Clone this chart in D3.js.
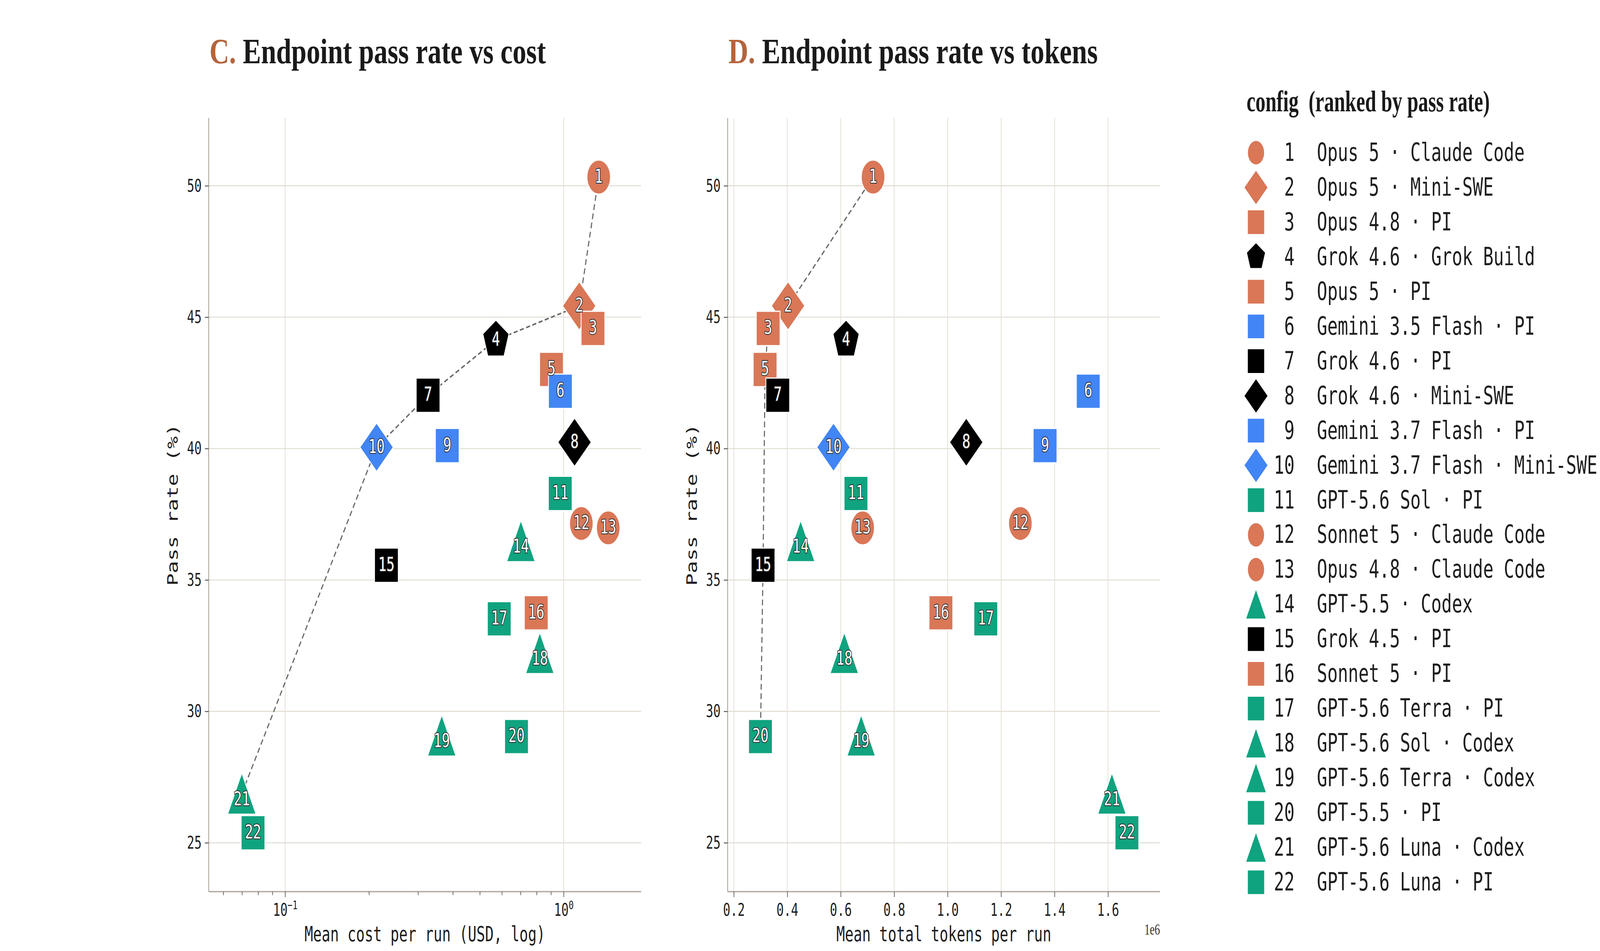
<!DOCTYPE html>
<html>
<head>
<meta charset="utf-8">
<script src="https://cdn.jsdelivr.net/npm/d3@7"></script>
<style>
  html, body { margin: 0; padding: 0; background: #ffffff; overflow: hidden; }
  svg { display: block; width: 100vw; height: 100vh; }
</style>
</head>
<body>
<svg id="chart" viewBox="0 0 5935 2435" preserveAspectRatio="none"></svg>
<script>
// ---------------- DATA ----------------
const configRank = [1,2,3,4,5,6,7,8,9,10,11,12,13,14,15,16,17,18,19,20,21,22];
const configModel = ["Opus 5","Opus 5","Opus 4.8","Grok 4.6","Opus 5","Gemini 3.5 Flash","Grok 4.6","Grok 4.6",
  "Gemini 3.7 Flash","Gemini 3.7 Flash","GPT-5.6 Sol","Sonnet 5","Opus 4.8","GPT-5.5","Grok 4.5","Sonnet 5",
  "GPT-5.6 Terra","GPT-5.6 Sol","GPT-5.6 Terra","GPT-5.5","GPT-5.6 Luna","GPT-5.6 Luna"];
const configHarness = ["Claude Code","Mini-SWE","PI","Grok Build","PI","PI","PI","Mini-SWE",
  "PI","Mini-SWE","PI","Claude Code","Claude Code","Codex","PI","PI",
  "PI","Codex","Codex","PI","Codex","PI"];
const configVendor = ["Anthropic","Anthropic","Anthropic","xAI","Anthropic","Google","xAI","xAI",
  "Google","Google","OpenAI","Anthropic","Anthropic","OpenAI","xAI","Anthropic",
  "OpenAI","OpenAI","OpenAI","OpenAI","OpenAI","OpenAI"];
const passRate = [50.33,45.43,44.57,44.13,43.01,42.18,42.03,40.24,40.11,40.05,38.29,37.15,36.98,36.48,35.56,33.75,
  33.52,32.22,29.08,29.04,26.87,25.38];
const meanCostUSD = [1.336,1.137,1.274,0.571,0.904,0.973,0.326,1.094,0.382,0.213,0.972,1.157,1.445,0.702,0.231,0.797,
  0.587,0.821,0.365,0.677,0.0699,0.0767];
const meanTokens = [721000,403000,328500,620000,317000,1526000,364400,1069700,1364500,573000,657000,1272000,682000,
  450000,309400,974800,1142700,613400,676600,299600,1614600,1670700];
const frontierCost = [21,10,7,4,2,1];
const frontierTokens = [20,15,5,3,2,1];
const yTicks = [25,30,35,40,45,50];
const costMajorTicks = [0.1, 1];
const costMinorTicks = [0.06,0.07,0.08,0.09,0.2,0.3,0.4,0.5,0.6,0.7,0.8,0.9];
const tokenTicks = [200000,400000,600000,800000,1000000,1200000,1400000,1600000];

// ---------------- STYLE ----------------
const vendorColor = {Anthropic:"#D97757", Google:"#4285F4", xAI:"#000000", OpenAI:"#10A37F"};
const harnessShape = {"Claude Code":"circle","Mini-SWE":"diamond","PI":"square","Grok Build":"pentagon","Codex":"triangle"};
const MONO = "'DejaVu Sans Mono', monospace";
const SERIF = "'Liberation Serif', 'DejaVu Serif', serif";
const GRID = "#e2ded3", SPINE = "#b3ada3", TICK = "#555", TXT = "#1e1e1e";

function shapePath(shape, s) {
  switch (shape) {
    case "circle": { const r = 43.6*s; return `M${-r},0A${r},${r} 0 1,0 ${r},0A${r},${r} 0 1,0 ${-r},0Z`; }
    case "square": { const h = 44*s; return `M${-h},${-h}H${h}V${h}H${-h}Z`; }
    case "diamond": { const h = 62*s; return `M0,${-h}L${h},0L0,${h}L${-h},0Z`; }
    case "triangle": { const h = 52.8*s; return `M0,${-h}L${h},${h}L${-h},${h}Z`; }
    case "pentagon": {
      const r = 51*s; let p = "";
      for (let i = 0; i < 5; i++) {
        const a = -Math.PI/2 + i*2*Math.PI/5;
        p += (i ? "L" : "M") + (r*Math.cos(a)).toFixed(2) + "," + (r*Math.sin(a)).toFixed(2);
      }
      return p + "Z";
    }
  }
}

const rows = configRank.map((r, i) => ({
  rank: r, name: configModel[i] + " \u00b7 " + configHarness[i],
  shape: harnessShape[configHarness[i]], color: vendorColor[configVendor[i]],
  pass: passRate[i], cost: meanCostUSD[i], tokens: meanTokens[i]
}));

const svg = d3.select("#chart");
svg.append("rect").attr("width", 5935).attr("height", 2435).attr("fill", "#fff");

const yTop = 302, yBot = 2283;
const y = d3.scaleLinear().domain([23.14, 52.58]).range([yBot, yTop]);

const panels = [
  { letter: "C.", title: " Endpoint pass rate vs cost", titleLen: 1248,
    x: d3.scaleLog().domain([0.05315, 1.896]).range([774, 2378]),
    key: "cost", xlabel: "Mean cost per run (USD, log)", frontier: frontierCost, log: true },
  { letter: "D.", title: " Endpoint pass rate vs tokens", titleLen: 1370,
    x: d3.scaleLinear().domain([176800, 1794600]).range([2699, 4303]),
    key: "tokens", xlabel: "Mean total tokens per run", frontier: frontierTokens, log: false }
];

panels.forEach(p => {
  const g = svg.append("g");
  const [x0, x1] = p.x.range();

  const t = g.append("text").attr("x", x0 + 3).attr("y", 162)
    .attr("font-family", SERIF).attr("font-weight", "bold").attr("font-size", 90)
    .attr("textLength", p.titleLen).attr("lengthAdjust", "spacingAndGlyphs");
  t.append("tspan").attr("fill", "#B4643C").text(p.letter);
  t.append("tspan").attr("fill", "#1a1a1a").text(p.title);

  const xGridVals = p.log ? costMajorTicks : tokenTicks;
  g.append("g").selectAll("line").data(xGridVals).join("line")
    .attr("x1", d => p.x(d)).attr("x2", d => p.x(d)).attr("y1", yTop).attr("y2", yBot)
    .attr("stroke", GRID).attr("stroke-width", 2.6);
  g.append("g").selectAll("line").data(yTicks).join("line")
    .attr("x1", x0).attr("x2", x1).attr("y1", d => y(d)).attr("y2", d => y(d))
    .attr("stroke", GRID).attr("stroke-width", 2.6);

  const yAxis = g.append("g").attr("transform", `translate(${x0},0)`)
    .call(d3.axisLeft(y).tickValues(yTicks).tickFormat(d3.format("d")).tickSize(14).tickPadding(12));
  const xAxis = g.append("g").attr("transform", `translate(0,${yBot})`);
  if (p.log) {
    xAxis.call(d3.axisBottom(p.x).tickValues(costMajorTicks).tickFormat(() => "").tickSize(14).tickPadding(16));
    xAxis.selectAll(".tick text").each(function(d) {
      const s = d3.select(this);
      s.append("tspan").text("10");
      s.append("tspan").attr("dy", -17).attr("font-size", 31).text(d < 1 ? "\u22121" : "0");
    });
    const minor = g.append("g").attr("transform", `translate(0,${yBot})`)
      .call(d3.axisBottom(p.x).tickValues(costMinorTicks).tickFormat(() => "").tickSize(9));
    minor.select(".domain").remove();
    minor.selectAll(".tick line").attr("stroke", TICK).attr("stroke-width", 2.4);
  } else {
    xAxis.call(d3.axisBottom(p.x).tickValues(tokenTicks).tickFormat(d => (d/1e6).toFixed(1)).tickSize(14).tickPadding(16));
    g.append("text").attr("x", x1).attr("y", 2393).attr("text-anchor", "end")
      .attr("font-family", SERIF).attr("font-size", 40).attr("fill", "#333").text("1e6");
  }
  [yAxis, xAxis].forEach(a => {
    a.select(".domain").attr("stroke", SPINE).attr("stroke-width", 3.5);
    a.selectAll(".tick line").attr("stroke", TICK).attr("stroke-width", 2.4);
    a.selectAll(".tick text").attr("font-family", MONO).attr("font-size", 45).attr("fill", TXT);
  });
  yAxis.select(".domain").attr("d", `M0,${yTop}V${yBot}`);
  xAxis.select(".domain").attr("d", `M${x0},0H${x1}`);

  g.append("text").attr("x", (x0 + x1) / 2).attr("y", 2410).attr("text-anchor", "middle")
    .attr("font-family", MONO).attr("font-size", 53).attr("fill", TXT).text(p.xlabel);
  g.append("text").attr("transform", `translate(${x0 - 114},${(yTop + yBot) / 2}) rotate(-90)`)
    .attr("text-anchor", "middle").attr("font-family", MONO).attr("font-size", 53).attr("fill", TXT)
    .text("Pass rate (%)");

  const fr = p.frontier.map(r => rows[r - 1]);
  g.append("path").datum(fr)
    .attr("d", d3.line().x(d => p.x(d[p.key])).y(d => y(d.pass)))
    .attr("fill", "none").attr("stroke", "#666").attr("stroke-width", 4).attr("stroke-dasharray", "15 9");

  g.append("g").selectAll("path").data(rows).join("path")
    .attr("transform", d => `translate(${p.x(d[p.key])},${y(d.pass)})`)
    .attr("d", d => shapePath(d.shape, 1))
    .attr("fill", d => d.color).attr("stroke", "#fff").attr("stroke-width", 3);

  g.append("g").selectAll("text").data(rows).join("text")
    .attr("x", d => p.x(d[p.key]))
    .attr("y", d => y(d.pass) + (d.shape === "triangle" ? 30 : 14.5))
    .attr("text-anchor", "middle").attr("font-family", MONO).attr("font-size", 50)
    .attr("fill", "#fff").attr("stroke", "#2a2a2a").attr("stroke-width", 4)
    .attr("paint-order", "stroke").attr("stroke-linejoin", "round")
    .text(d => d.rank);
});

// ---------------- LEGEND ----------------
const lg = svg.append("g");
lg.append("text").attr("x", 4624).attr("y", 285)
  .attr("font-family", SERIF).attr("font-weight", "bold").attr("font-size", 76).attr("fill", "#1a1a1a")
  .attr("textLength", 902).attr("lengthAdjust", "spacingAndGlyphs")
  .text("config\u00a0\u00a0(ranked by pass rate)");

const rowY = d3.scaleLinear().domain([1, 22]).range([391, 2259]);
const item = lg.selectAll("g.item").data(rows).join("g").attr("class", "item")
  .attr("transform", d => `translate(0,${rowY(d.rank)})`);
item.append("path").attr("transform", "translate(4659,0)")
  .attr("d", d => shapePath(d.shape, 0.69)).attr("fill", d => d.color);
item.append("text").attr("x", 4802).attr("y", 21).attr("text-anchor", "end")
  .attr("font-family", MONO).attr("font-size", 64).attr("fill", TXT).text(d => d.rank);
item.append("text").attr("x", 4885).attr("y", 21)
  .attr("font-family", MONO).attr("font-size", 64).attr("fill", TXT).text(d => d.name);
</script>
</body>
</html>
